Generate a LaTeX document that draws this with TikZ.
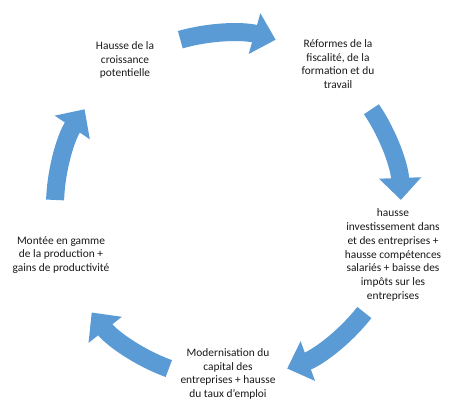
\documentclass[tikz,border=0pt]{standalone}
\usepackage{fontspec}
\setmainfont{Carlito}
\usetikzlibrary{arrows.meta}

\definecolor{cycleblue}{HTML}{5B9BD5}
\tikzset{
  step text/.style={align=center, text=black!90, font=\fontsize{11.4}{13.7}\selectfont},
  cycle arrow/.style={cycleblue, line width=18pt,
    -{Triangle[width=41pt,length=22pt]}}
}

\begin{document}
\begin{tikzpicture}[x=1pt,y=1pt]
  \useasboundingbox (0,0) rectangle (460,414);
  \coordinate (c) at (228,208);

  % the five steps of the cycle
  \node[step text] (croissance) at (125,354) {Hausse de la\\croissance\\potentielle};
  \node[step text] (reformes) at (338,350) {Réformes de la\\fiscalité, de la\\formation et du\\travail};
  \node[step text] (invest) at (393,159) {hausse\\investissement dans\\et des entreprises +\\hausse compétences\\salariés + baisse des\\impôts sur les\\entreprises};
  \node[step text] (modern) at (228,40) {Modernisation du\\capital des\\entreprises + hausse\\du taux d'emploi};
  \node[step text] (montee) at (61,159) {Montée en gamme\\de la production +\\gains de productivité};

  % arrows round the circle
  \foreach \a in {90,18,-54,-126,162}
    \draw[cycle arrow] ([shift={(\a+16:173)}]c) arc[start angle=\a+16, end angle=\a-16, radius=173];
\end{tikzpicture}
\end{document}
